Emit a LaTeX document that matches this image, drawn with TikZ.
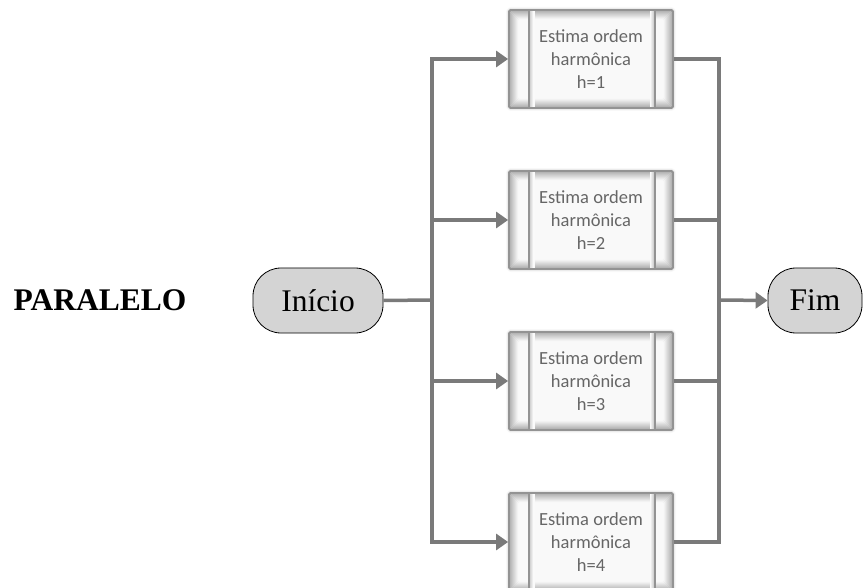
\documentclass[tikz,border=0pt]{standalone}
\usepackage{fontspec}
\setmainfont{Liberation Serif}
\newfontfamily\boxfont{Carlito}
\usetikzlibrary{arrows.meta,shadows.blur,calc}
\definecolor{linegray}{HTML}{7A7A7A}
\definecolor{termfill}{HTML}{D4D4D4}
\begin{document}
\begin{tikzpicture}[x=1pt,y=-1pt,
  conn/.style={draw=linegray, line width=3.5pt},
  arr/.style={conn,-{Triangle[length=12pt,width=16pt]}},
  term/.style={draw=black, line width=0.8pt, fill=termfill, rounded corners=28pt,
    minimum height=65pt, inner sep=0pt, font=\fontsize{31.5}{33}\selectfont},
  procbox/.style={minimum width=164pt, minimum height=98pt, inner sep=0pt,
    fill=gray!5, draw=gray!85, line width=1.8pt, rounded corners=1.5pt,
    blur shadow={shadow xshift=0pt, shadow yshift=0pt, shadow blur radius=3pt, shadow opacity=35},
    path picture={
      \foreach \i in {0,...,8}{
        \pgfmathtruncatemacro\c{66-7*\i}
        \draw[gray!\c, line width=1.2pt]
          ([shift={(\i+0.5,\i+0.5)}]path picture bounding box.north west) rectangle
          ([shift={(-\i-0.5,-\i-0.5)}]path picture bounding box.south east);
      }
    },
    align=center, text=gray!80!black, font=\boxfont\fontsize{18.5}{23}\selectfont},
  divider/.style={draw=gray!85, line width=1.8pt}
]
\useasboundingbox (0,0) rectangle (865,588);

\node[font=\bfseries\fontsize{31.5}{33}\selectfont] (title) at (100,300) {PARALELO};

\node[term, minimum width=130pt] (ini) at (318,300.5) {Início};
\node[term, minimum width=94pt] (fim) at (815,300.5) {Fim};

\node[procbox] (b1) at (591,59)  {Estima ordem\\harmônica\\h=1};
\node[procbox] (b2) at (591,220) {Estima ordem\\harmônica\\h=2};
\node[procbox] (b3) at (591,381) {Estima ordem\\harmônica\\h=3};
\node[procbox] (b4) at (591,542) {Estima ordem\\harmônica\\h=4};

\foreach \b in {b1,b2,b3,b4}{
  \foreach \k in {1,...,4}{
    \pgfmathtruncatemacro\c{44-10*\k}
    \draw[gray!\c, line width=1.2pt] ($(\b.north west)+(21+1.2*\k,2)$) -- ($(\b.south west)+(21+1.2*\k,-2)$);
    \draw[gray!\c, line width=1.2pt] ($(\b.north east)+(-19-1.2*\k,2)$) -- ($(\b.south east)+(-19-1.2*\k,-2)$);
  }
  \draw[divider] ($(\b.north west)+(21,0)$) -- ($(\b.south west)+(21,0)$);
  \draw[divider] ($(\b.north east)+(-19,0)$) -- ($(\b.south east)+(-19,0)$);
}

\coordinate (L) at (432,300);
\coordinate (R) at (719,300);

\draw[conn] (b1.west -| L) -- (b4.west -| L);
\draw[conn] (ini.east) -- (L);
\foreach \b in {b1,b2,b3,b4}{
  \draw[arr] ([xshift=-1.75pt]\b.west -| L) -- (\b.west);
  \draw[conn] (\b.east) -- ([xshift=1.75pt]\b.east -| R);
}
\draw[conn] (b1.east -| R) -- (b4.east -| R);
\draw[arr] (R) -- (fim.west);
\end{tikzpicture}
\end{document}
